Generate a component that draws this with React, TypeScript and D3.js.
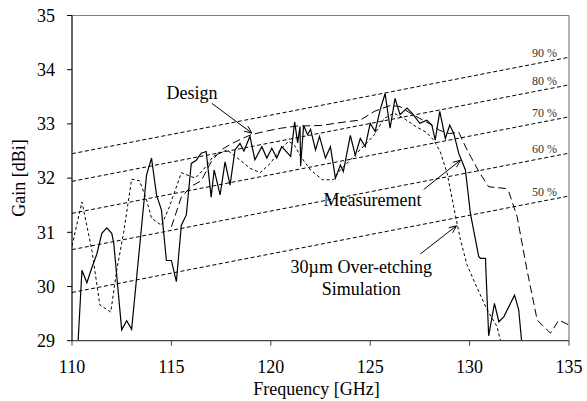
import React from "react";
import * as d3 from "d3";

// measured gain (solid)
const measFreq = [
  110.25, 110.5, 110.75, 111.0, 111.25, 111.5, 111.75, 112.0, 112.1, 112.5, 112.75, 113.0,
  113.75, 114.0, 114.25, 114.5, 114.75, 115.0, 115.25, 115.5, 115.75, 116.0, 116.25, 116.5,
  116.75, 117.0, 117.15, 117.45, 117.7, 117.95, 118.2, 118.45, 118.65, 118.95, 119.2, 119.55,
  119.8, 120.05, 120.3, 120.55, 121.0, 121.2, 121.35, 121.47, 121.5, 121.65, 121.85, 122.0,
  122.25, 122.45, 122.75, 123.0, 123.25, 123.5, 123.65, 124.0, 124.25, 124.5, 124.75, 125.0,
  125.25, 125.5, 125.75, 126.0, 126.25, 126.5, 126.85, 127.1, 127.5, 127.85, 128.1, 128.27,
  128.5, 128.78, 129.0, 129.2, 129.45, 129.79, 130.04, 130.46, 130.55, 130.8, 130.82, 130.96,
  131.25, 131.47, 131.72, 132.26, 132.47, 132.64,
];
const measGain = [
  28.6, 30.3, 30.07, 30.35, 30.6, 30.98, 31.08, 30.98, 30.8, 29.2, 29.37, 29.21,
  32.06, 32.37, 31.69, 31.41, 30.48, 30.48, 30.09, 31.13, 31.32, 32.27, 32.33, 32.46,
  32.49, 31.65, 32.15, 31.69, 32.3, 31.87, 32.52, 32.64, 32.5, 32.77, 32.34, 32.58,
  32.37, 32.55, 32.37, 32.58, 32.4, 33.04, 32.65, 32.95, 32.22, 32.97, 32.8, 32.9,
  32.52, 32.77, 32.37, 32.58, 32.0, 32.24, 32.12, 32.79, 32.42, 32.73, 32.58, 33.01,
  32.86, 33.26, 33.56, 32.92, 33.47, 33.17, 33.29, 33.2, 33.01, 33.07, 32.98, 32.7,
  33.23, 32.73, 32.98, 32.83, 32.46, 32.15, 31.35, 30.55, 30.52, 30.52, 30.3, 29.09,
  29.69, 29.35, 29.44, 29.84, 29.57, 28.9,
];

// design (long dash)
const designFreq = [
  115.0, 115.5, 116.0, 116.5, 117.0, 117.5, 118.0, 118.5, 119.0, 119.8, 120.5, 121.3,
  122.5, 123.8, 124.5, 125.2, 126.0, 126.5, 127.0, 127.5, 128.0, 128.5, 129.0, 129.45,
  129.87, 130.5, 130.96, 131.8, 131.97, 132.39, 132.89, 133.4, 134.07, 134.49, 135.0,
];
const designGain = [
  31.1, 31.65, 31.85, 31.95, 32.3, 32.52, 32.63, 32.72, 32.8, 32.87, 32.92, 32.96,
  32.97, 33.04, 33.07, 33.23, 33.34, 33.32, 33.2, 33.1, 33.0, 32.88, 32.82, 32.85,
  32.52, 32.1, 31.84, 31.81, 31.75, 31.29, 30.3, 29.38, 29.14, 29.38, 29.29,
];

// 30um over-etching simulation (short dash)
const simFreq = [
  110.0, 110.5, 111.0, 111.4, 111.95, 112.25, 112.6, 113.0, 113.4, 113.75, 114.0, 114.5,
  114.9, 115.5, 116.2, 116.6, 117.1, 117.8, 118.46, 118.96, 119.47, 119.97, 120.47, 120.9,
  121.2, 121.5, 122.0, 122.6, 123.15, 123.5, 124.33, 125.17, 125.7, 126.2, 126.7, 127.3,
  127.8, 128.2, 128.53, 128.87, 129.2, 129.54, 129.87, 130.2, 130.88, 131.38, 131.55,
];
const simGain = [
  30.75, 31.56, 30.67, 29.66, 29.53, 30.3, 31.0, 31.98, 31.95, 31.6, 31.26, 31.13,
  31.47, 32.1, 32.0, 32.15, 32.4, 32.52, 32.33, 32.18, 32.1, 32.27, 32.52, 32.68,
  32.6, 32.4, 32.15, 31.97, 31.97, 32.15, 32.46, 32.78, 33.1, 33.2, 33.1, 32.95,
  32.85, 32.7, 32.48, 32.09, 31.47, 30.86, 30.4, 30.12, 29.57, 29.26, 29.0,
];

// efficiency reference lines
const effLabels = ["90 %", "80 %", "70 %", "60 %", "50 %"];
const effAt110 = [32.45, 31.94, 31.35, 30.68, 29.89];
const effAt135 = [34.23, 33.72, 33.13, 32.46, 31.67];

const xTicks = [110, 115, 120, 125, 130, 135];
const yTicks = [29, 30, 31, 32, 33, 34, 35];

const W = 587;
const H = 401;
const FONT = "'Liberation Serif', 'Times New Roman', serif";

const App = () => {
  const x = d3.scaleLinear().domain([110, 135]).range([72, 569]);
  const y = d3.scaleLinear().domain([29, 35]).range([340.7, 15.5]);

  const line = d3
    .line<[number, number]>()
    .x((d) => x(d[0]))
    .y((d) => y(d[1]));

  const zip = (fs: number[], gs: number[]) => fs.map((f, i) => [f, gs[i]] as [number, number]);

  // annotations in data units: text anchor, arrow tail, arrow tip
  const notes = [
    { lines: ["Design"], at: [114.75, 33.46], anchor: "start", tail: [117.03, 33.38], tip: [119.05, 32.83] },
    { lines: ["Measurement"], at: [122.65, 31.49], anchor: "start", tail: [127.69, 31.79], tip: [129.54, 32.33] },
    { lines: ["30\u00b5m Over-etching", "Simulation"], at: [124.55, 30.25], anchor: "middle", tail: [127.52, 30.6], tip: [129.34, 31.12] },
  ];

  const arrowHead = (t: number[], p: number[]) => {
    const x1 = x(t[0]), y1 = y(t[1]), x2 = x(p[0]), y2 = y(p[1]);
    const a = Math.atan2(y2 - y1, x2 - x1);
    const len = 8, spread = 0.4;
    return `M${x2 - len * Math.cos(a - spread)},${y2 - len * Math.sin(a - spread)}L${x2},${y2}L${x2 - len * Math.cos(a + spread)},${y2 - len * Math.sin(a + spread)}`;
  };

  const [x0, x1] = x.range();
  const [y0, y1] = y.range();

  return (
    <svg width={W} height={H} style={{ position: "absolute", left: 0, top: 0, background: "#fff" }} fontFamily={FONT}>
      <defs>
        <clipPath id="plot">
          <rect x={x0} y={y1} width={x1 - x0} height={y0 - y1} />
        </clipPath>
      </defs>

      {/* efficiency lines */}
      {effLabels.map((lab, i) => (
        <g key={lab}>
          <line x1={x(110)} y1={y(effAt110[i])} x2={x(135)} y2={y(effAt135[i])} stroke="#000" strokeWidth={1} strokeDasharray="4,2.5" />
          <text
            x={x(134.4)}
            y={y(effAt110[i] + (effAt135[i] - effAt110[i]) * (24.4 / 25)) - 2.5}
            textAnchor="end"
            fontSize={12}
            fill="#333"
          >
            {lab}
          </text>
        </g>
      ))}

      <g clipPath="url(#plot)" fill="none" stroke="#000">
        <path d={line(zip(simFreq, simGain)) || ""} strokeWidth={1} strokeDasharray="3,2.5" />
        <path d={line(zip(designFreq, designGain)) || ""} strokeWidth={1} strokeDasharray="8,4" />
        <path d={line(zip(measFreq, measGain)) || ""} strokeWidth={1.2} />
      </g>

      {/* frame */}
      <line x1={x0} y1={y1} x2={x1} y2={y1} stroke="#808080" strokeWidth={1.2} />
      <line x1={x1} y1={y1} x2={x1} y2={y0} stroke="#808080" strokeWidth={1.2} />
      <line x1={x0} y1={y0} x2={x1} y2={y0} stroke="#444" strokeWidth={1.2} />
      <line x1={x0} y1={y1} x2={x0} y2={y0} stroke="#000" strokeWidth={1.2} />

      {/* y axis */}
      {yTicks.map((t) => (
        <g key={t}>
          <line x1={x0 - 5} x2={x0} y1={y(t)} y2={y(t)} stroke="#000" />
          <text x={x0 - 17} y={y(t)} dy="0.35em" textAnchor="end" fontSize={18}>
            {t}
          </text>
        </g>
      ))}

      {/* x axis */}
      {xTicks.map((t) => (
        <g key={t}>
          <line x1={x(t)} x2={x(t)} y1={y0} y2={y0 + 5} stroke="#444" />
          <text x={x(t)} y={373} textAnchor="middle" fontSize={18}>
            {t}
          </text>
        </g>
      ))}

      <text x={(x0 + x1) / 2 - 4} y={395} textAnchor="middle" fontSize={18}>
        Frequency [GHz]
      </text>
      <text transform={`translate(25,${(y0 + y1) / 2}) rotate(-90)`} textAnchor="middle" fontSize={18}>
        Gain [dBi]
      </text>

      {/* annotations */}
      {notes.map((n, i) => (
        <g key={i}>
          {n.lines.map((l, j) => (
            <text key={j} x={x(n.at[0])} y={y(n.at[1]) + j * 22} textAnchor={n.anchor as any} fontSize={18}>
              {l}
            </text>
          ))}
          <line x1={x(n.tail[0])} y1={y(n.tail[1])} x2={x(n.tip[0])} y2={y(n.tip[1])} stroke="#000" strokeWidth={1} />
          <path d={arrowHead(n.tail, n.tip)} fill="none" stroke="#000" strokeWidth={1} />
        </g>
      ))}
    </svg>
  );
};

export default App;
